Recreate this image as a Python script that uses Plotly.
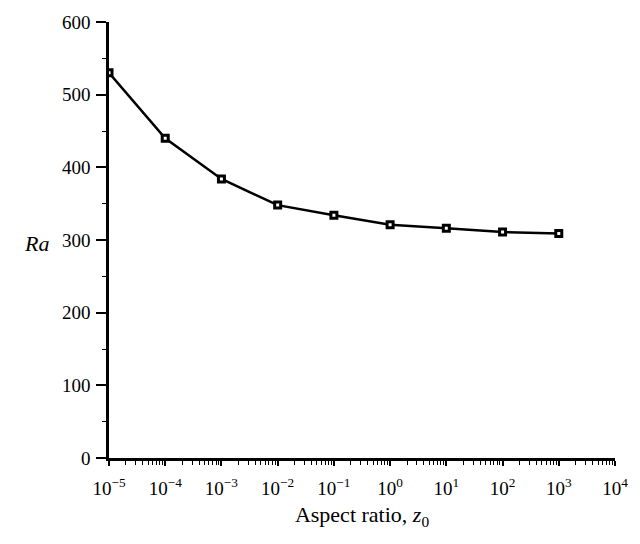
import plotly.graph_objects as go

z0 = [1e-5, 1e-4, 1e-3, 1e-2, 1e-1, 1e0, 1e1, 1e2, 1e3]
ra = [530, 440, 384, 348, 334, 321, 316, 311, 309]
xtick_vals = [1e-5, 1e-4, 1e-3, 1e-2, 1e-1, 1e0, 1e1, 1e2, 1e3, 1e4]
xtick_text = ["10<sup>−5</sup>", "10<sup>−4</sup>", "10<sup>−3</sup>", "10<sup>−2</sup>",
              "10<sup>−1</sup>", "10<sup>0</sup>", "10<sup>1</sup>", "10<sup>2</sup>",
              "10<sup>3</sup>", "10<sup>4</sup>"]

font = "Liberation Serif, Times New Roman, serif"

fig = go.Figure()
fig.add_trace(go.Scatter(
    x=z0, y=ra, mode="lines+markers",
    line=dict(color="black", width=2.5),
    marker=dict(symbol="square", size=6, color="white", line=dict(color="black", width=3)),
    showlegend=False,
))

fig.update_layout(
    width=640, height=544,
    margin=dict(l=109, r=20, t=14, b=86),
    paper_bgcolor="white", plot_bgcolor="white",
    font=dict(family=font, color="black", size=19),
    xaxis=dict(
        type="log", range=[-5, 4],
        tickvals=xtick_vals, ticktext=xtick_text,
        ticks="outside", ticklen=5, tickwidth=2, tickcolor="black",
        showline=True, linewidth=2.5, linecolor="black",
        showgrid=False, zeroline=False,
        minor=dict(ticks="outside", ticklen=4, tickwidth=1.2, tickcolor="black", dtick="D1", showgrid=False),
        tickfont=dict(size=19, family=font),
        ticklabelstandoff=6,
        title=dict(text="Aspect ratio, <i>z</i><sub>0</sub>", font=dict(size=22, family=font), standoff=10),
    ),
    yaxis=dict(
        range=[0, 600], dtick=100,
        ticks="outside", ticklen=10, tickwidth=2, tickcolor="black",
        showline=True, linewidth=2.5, linecolor="black",
        showgrid=False, zeroline=False,
        minor=dict(ticks="outside", ticklen=4, tickwidth=1.2, tickcolor="black", dtick=50, showgrid=False),
        tickfont=dict(size=19, family=font),
        ticklabelstandoff=2,
    ),
    annotations=[dict(
        text="<i>Ra</i>", x=(36 - 109) / 511, y=(458 - 240) / 444,
        xref="paper", yref="paper", xanchor="center", yanchor="middle",
        showarrow=False, font=dict(size=22, family=font),
    )],
)

fig.write_html("out.html")
